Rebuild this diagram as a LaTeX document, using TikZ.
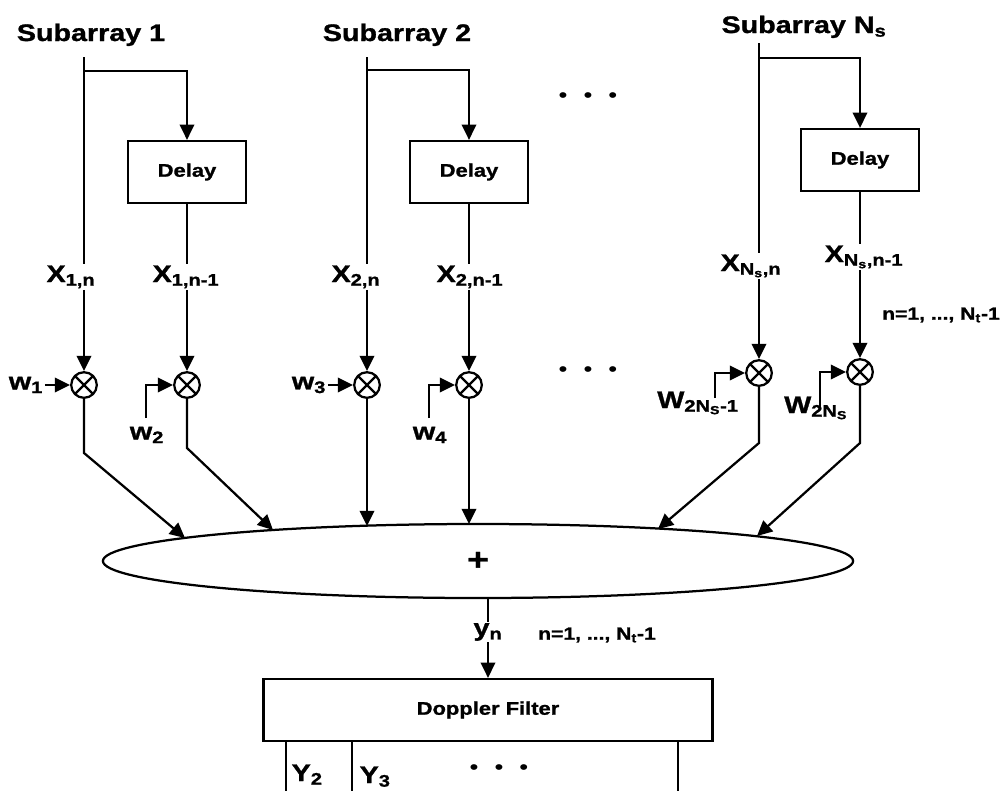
\documentclass[tikz,border=0pt]{standalone}
\usepackage{fontspec}
\setmainfont{Liberation Sans}[FakeStretch=1.2, BoldFeatures={FakeBold=1.2}]
\usetikzlibrary{arrows.meta, shapes.geometric, positioning, calc}

\begin{document}
\begin{tikzpicture}[
  x=0.025cm, y=-0.025cm,
  % --- styles ------------------------------------------------------------
  delaybox/.style={
    rectangle, draw, line width=1.6pt,
    minimum width=2.95cm, minimum height=1.55cm,
    font=\fontsize{13}{15}\selectfont\bfseries
  },
  mult/.style={
    circle, draw, line width=1.6pt, minimum size=0.64cm, inner sep=0pt,
    path picture={\draw[line width=1.6pt] (path picture bounding box.center)
      +(45:1cm) -- +(225:1cm) +(135:1cm) -- +(315:1cm);}
  },
  wire/.style={line width=1.6pt},
  arr/.style={-{Triangle[length=0.38cm, width=0.36cm]}, line width=1.6pt},
  title/.style={font=\fontsize{17}{20}\selectfont\bfseries, anchor=base},
  sig/.style={font=\fontsize{17}{20}\selectfont\bfseries, inner sep=1pt},
  note/.style={font=\fontsize{12.5}{15}\selectfont\bfseries},
  dots/.style={font=\fontsize{15}{16}\selectfont}
]
\useasboundingbox (0,0) rectangle (1008,791);

% --------------------- titles -------------------------------------------
\node[title] (sa1) at (91,41) {Subarray 1};
\node[title] (sa2) at (397,41) {Subarray 2};
\node[title] (san) at (804,33) {Subarray N\textsubscript{s}};

\coordinate (top1) at (84,57);  \coordinate (br1) at (84,71);
\coordinate (top2) at (367,57); \coordinate (br2) at (367,70);
\coordinate (topn) at (759,43); \coordinate (brn) at (759,58);

% --------------------- delays -------------------------------------------
\node[delaybox] (d1) at (187,172) {Delay};
\node[delaybox] (d2) at (469,172) {Delay};
\node[delaybox] (dn) at (860,160) {Delay};

\node[dots] (dotstop) at (588,98) {\textbullet\hspace{0.4cm}\textbullet\hspace{0.4cm}\textbullet};

% --------------------- signal labels ------------------------------------
\node[sig, anchor=base] (x1n) at (71,282) {X\textsubscript{1,n}};
\node[sig, anchor=base] (x1m) at (186,282) {X\textsubscript{1,n-1}};
\node[sig, anchor=base] (x2n) at (356,282) {X\textsubscript{2,n}};
\node[sig, anchor=base] (x2m) at (470,282) {X\textsubscript{2,n-1}};
\node[sig, anchor=base] (xnn) at (751,271) {X\textsubscript{N\textsubscript{s},n}};
\node[sig, anchor=base] (xnm) at (864,262) {X\textsubscript{N\textsubscript{s},n-1}};

\node[note] (nr1) at (941,315) {n=1, ..., N\textsubscript{t}-1};

% --------------------- multipliers --------------------------------------
\node[mult] (m1) at (84,385) {};
\node[mult] (m2) at (187,385) {};
\node[mult] (m3) at (367,385) {};
\node[mult] (m4) at (469,385) {};
\node[mult] (m5) at (759,373) {};
\node[mult] (m6) at (860,372) {};

\node[dots] (dotsmid) at (588,372) {\textbullet\hspace{0.4cm}\textbullet\hspace{0.4cm}\textbullet};

\node[sig] (w1) at (26,385) {w\textsubscript{1}};
\node[sig] (w2) at (147,435) {w\textsubscript{2}};
\node[sig] (w3) at (309,385) {w\textsubscript{3}};
\node[sig] (w4) at (430,435) {w\textsubscript{4}};
\node[sig, anchor=base] (w5) at (698,408) {W\textsubscript{2N\textsubscript{S}-1}};
\node[sig, anchor=base] (w6) at (816,413) {W\textsubscript{2N\textsubscript{S}}};

% --------------------- summer and filter --------------------------------
\node[ellipse, draw, line width=1.6pt, minimum width=18.75cm, minimum height=1.85cm,
      font=\fontsize{22}{24}\selectfont\bfseries] (sum) at (478,561) {+};

\node[sig] (yn) at (488,632) {y\textsubscript{n}};
\node[note] (nr2) at (597,635) {n=1, ..., N\textsubscript{t}-1};

\node[rectangle, draw, line width=1.6pt, minimum width=11.225cm, minimum height=1.55cm,
      font=\fontsize{13}{15}\selectfont\bfseries] (dop) at (488,710) {Doppler Filter};

\node[sig, anchor=base west] (y2) at (290,781) {Y\textsubscript{2}};
\node[sig, anchor=base west] (y3) at (358,783) {Y\textsubscript{3}};
\node[dots] (dotsbot) at (499,770) {\textbullet\hspace{0.4cm}\textbullet\hspace{0.4cm}\textbullet};

% --------------------- feeds and delays ---------------------------------
\draw[wire] (top1) -- (top1 |- x1n.north);
\draw[arr] (br1) -| (d1.north);
\draw[wire] (d1) -- (d1 |- x1m.north);

\draw[wire] (top2) -- (top2 |- x2n.north);
\draw[arr] (br2) -| (d2.north);
\draw[wire] (d2) -- (d2 |- x2m.north);

\draw[wire] (topn) -- (topn |- xnn.north);
\draw[arr] (brn) -| (dn.north);
\draw[wire] (dn) -- (dn |- xnm.north);

% --------------------- into the multipliers -----------------------------
\draw[arr] (x1n.south -| m1) -- (m1);
\draw[arr] (x1m.south -| m2) -- (m2);
\draw[arr] (x2n.south -| m3) -- (m3);
\draw[arr] (x2m.south -| m4) -- (m4);
\draw[arr] (xnn.south -| m5) -- (m5);
\draw[arr] (xnm.south -| m6) -- (m6);

\draw[arr] (w1) -- (m1);
\draw[arr] ($(w2.north)+(-1,-7)$) |- (m2);
\draw[arr] (w3) -- (m3);
\draw[arr] ($(w4.north)+(-1,-7)$) |- (m4);
\draw[arr] ($(w5.base)+(17,-10)$) |- (m5);
\draw[arr] ($(w6.base)+(4,-6)$) |- (m6);

% --------------------- into the summer ----------------------------------
\coordinate (k1) at (84,453);
\coordinate (k2) at (187,448);
\coordinate (k5) at (759,443);
\coordinate (k6) at (860,443);
\coordinate (e1) at ($(sum.center)+(-293,-23)$);
\coordinate (e2) at ($(sum.center)+(-205,-31)$);
\coordinate (e3) at ($(sum.center)+(-111,-35)$);
\coordinate (e4) at ($(sum.center)+(-9,-37)$);
\coordinate (e5) at ($(sum.center)+(180,-32)$);
\coordinate (e6) at ($(sum.center)+(279,-25)$);

\draw[arr] (m1) -- (k1) -- (e1);
\draw[arr] (m2) -- (k2) -- (e2);
\draw[arr] (m3) -- (e3);
\draw[arr] (m4) -- (e4);
\draw[arr] (m5) -- (k5) -- (e5);
\draw[arr] (m6) -- (k6) -- (e6);

% --------------------- summer to filter ---------------------------------
\draw[wire] (sum.south -| yn.north) -- (yn.north);
\draw[arr] (yn.south) -- (dop.north -| yn.south);

% filter outputs
\coordinate (o2) at (286,791);
\coordinate (o3) at (352,791);
\coordinate (o4) at (678,791);
\draw[wire] (dop.south -| o2) -- (o2);
\draw[wire] (dop.south -| o3) -- (o3);
\draw[wire] (dop.south -| o4) -- (o4);

\end{tikzpicture}
\end{document}
